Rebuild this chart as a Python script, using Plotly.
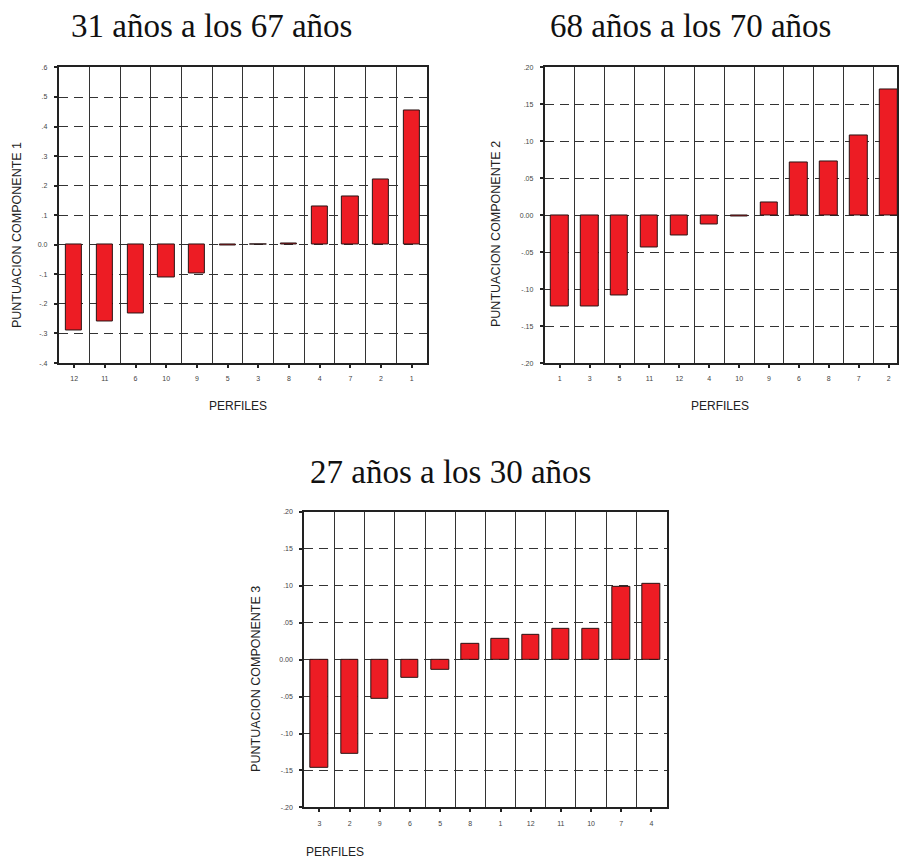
import plotly.graph_objects as go

# Perfiles ordenados por puntuación, para cada componente
perfiles_1 = ["12", "11", "6", "10", "9", "5", "3", "8", "4", "7", "2", "1"]
puntuacion_1 = [-0.290, -0.259, -0.232, -0.110, -0.097, -0.003, 0.002, 0.006, 0.131, 0.165, 0.221, 0.453]

perfiles_2 = ["1", "3", "5", "11", "12", "4", "10", "9", "6", "8", "7", "2"]
puntuacion_2 = [-0.123, -0.123, -0.108, -0.044, -0.027, -0.013, -0.002, 0.017, 0.071, 0.073, 0.108, 0.170]

perfiles_3 = ["3", "2", "9", "6", "5", "8", "1", "12", "11", "10", "7", "4"]
puntuacion_3 = [-0.147, -0.127, -0.053, -0.025, -0.014, 0.022, 0.028, 0.033, 0.041, 0.041, 0.098, 0.102]

titulos = ["31 años a los 67 años", "68 años a los 70 años", "27 años a los 30 años"]
etiquetas_y = ["PUNTUACION COMPONENTE 1", "PUNTUACION COMPONENTE 2", "PUNTUACION COMPONENTE 3"]
etiqueta_x = "PERFILES"

ticks_y1 = [-0.4, -0.3, -0.2, -0.1, 0.0, 0.1, 0.2, 0.3, 0.4, 0.5, 0.6]
texto_y1 = ["-.4", "-.3", "-.2", "-.1", "0.0", ".1", ".2", ".3", ".4", ".5", ".6"]
ticks_y23 = [-0.20, -0.15, -0.10, -0.05, 0.0, 0.05, 0.10, 0.15, 0.20]
texto_y23 = ["-.20", "-.15", "-.10", "-.05", "0.00", ".05", ".10", ".15", ".20"]

W, H = 899, 861
ROJO = "#ED1C24"
NEGRO = "#222222"
GRIS_TXT = "#444444"


def fx(px):
    return px / W


def fy(py):
    return 1 - py / H


fig = go.Figure()

paneles = [
    (perfiles_1, puntuacion_1, "x", "y", 0.53),
    (perfiles_2, puntuacion_2, "x2", "y2", 0.58),
    (perfiles_3, puntuacion_3, "x3", "y3", 0.58),
]
for cats, vals, xa, ya, ancho in paneles:
    fig.add_trace(go.Bar(
        x=list(range(len(cats))), y=vals, xaxis=xa, yaxis=ya,
        width=ancho, marker=dict(color=ROJO, line=dict(color="#2a1414", width=1)),
        showlegend=False, hoverinfo="skip",
    ))


def eje_x(cats, dominio, rango, ancla):
    return dict(
        domain=dominio, anchor=ancla, range=rango,
        tickmode="array", tickvals=list(range(len(cats))), ticktext=cats,
        ticks="outside", ticklen=3, tickwidth=2, tickcolor=NEGRO,
        ticklabelstandoff=5,
        tickfont=dict(family="Liberation Sans, Arial", size=7, color=GRIS_TXT),
        showgrid=False, zeroline=False,
        showline=True, linecolor=NEGRO, linewidth=1.5, mirror=True,
        minor=dict(tickmode="array", tickvals=[i - 0.5 for i in range(len(cats) + 1)],
                   showgrid=True, gridcolor="#333333", gridwidth=1, ticks=""),
        fixedrange=True,
    )


def eje_y(vals, texto, dominio, rango, ancla):
    return dict(
        domain=dominio, anchor=ancla, range=rango,
        tickmode="array", tickvals=vals, ticktext=texto,
        ticks="outside", ticklen=3, tickwidth=2, tickcolor=NEGRO,
        ticklabelstandoff=5,
        tickfont=dict(family="Liberation Sans, Arial", size=7, color=GRIS_TXT),
        showgrid=True, gridcolor="#333333", gridwidth=1, griddash="9px,6px",
        zeroline=False,
        showline=True, linecolor=NEGRO, linewidth=2, mirror=True,
        fixedrange=True,
    )


fig.update_layout(
    width=W, height=H,
    margin=dict(l=0, r=0, t=0, b=0),
    paper_bgcolor="white", plot_bgcolor="white",
    bargap=0,
    xaxis=eje_x(perfiles_1, [fx(59), fx(428)], [-0.5, 11.5], "y"),
    yaxis=eje_y(ticks_y1, texto_y1, [fy(362), fy(64)], [-0.4, 0.6], "x"),
    xaxis2=eje_x(perfiles_2, [fx(546), 1.0], [-0.5, 11.28], "y2"),
    yaxis2=eje_y(ticks_y23, texto_y23, [fy(362), fy(64)], [-0.20, 0.20], "x2"),
    xaxis3=eje_x(perfiles_3, [fx(305), fx(668)], [-0.5, 11.5], "y3"),
    yaxis3=eje_y(ticks_y23, texto_y23, [fy(810), fy(512)], [-0.20, 0.20], "x3"),
)

anotaciones = []
# Titulos de cada panel
for texto, cx, cy in zip(titulos, [211.5, 692, 451.5], [22, 22, 472]):
    anotaciones.append(dict(
        text=texto, x=fx(cx), y=fy(cy), xref="paper", yref="paper",
        xanchor="center", yanchor="middle", showarrow=False,
        font=dict(family="Liberation Serif, Times New Roman, serif", size=33, color="#111111"),
    ))
# Titulos de eje vertical
for texto, cx, cy in zip(etiquetas_y, [17, 497, 257], [233, 232, 680]):
    anotaciones.append(dict(
        text=texto, x=fx(cx), y=fy(cy), xref="paper", yref="paper",
        xanchor="center", yanchor="middle", showarrow=False, textangle=-90,
        font=dict(family="Liberation Sans, Arial", size=12.5, color=NEGRO),
    ))
# Titulos de eje horizontal
for cx, cy in zip([239, 722, 336], [405, 405, 855]):
    anotaciones.append(dict(
        text=etiqueta_x, x=fx(cx), y=fy(cy), xref="paper", yref="paper",
        xanchor="center", yanchor="middle", showarrow=False,
        font=dict(family="Liberation Sans, Arial", size=12, color=NEGRO),
    ))
fig.update_layout(annotations=anotaciones)

fig.write_html("out.html")
